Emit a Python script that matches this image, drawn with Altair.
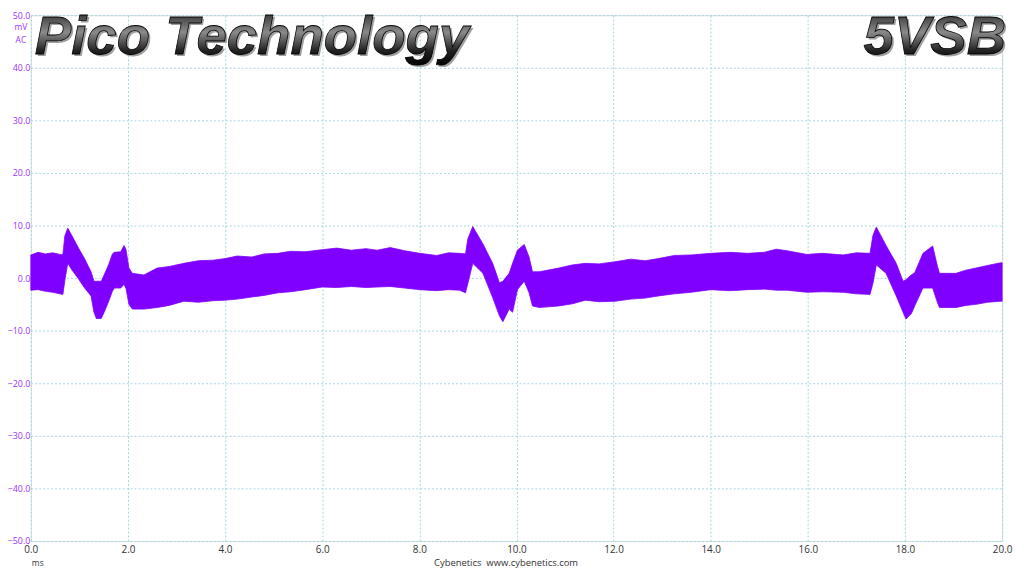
import altair as alt
import pandas as pd

# Envelope of the 5VSB ripple trace (ms, mV upper, mV lower)
time_ms = [0.00, 0.15, 0.30, 0.45, 0.60, 0.66, 0.70, 0.76, 0.85, 0.97, 1.10, 1.24, 1.30, 1.35, 1.45,
           1.51, 1.60, 1.68, 1.72, 1.85, 1.92, 1.96, 2.02, 2.09, 2.33, 2.60, 2.85, 3.15, 3.45, 3.75,
           4.00, 4.25, 4.55, 4.80, 5.09, 5.35, 5.65, 6.00, 6.30, 6.60, 6.90, 7.13, 7.40, 7.70, 8.01,
           8.36, 8.60, 8.83, 8.95, 9.00, 9.10, 9.31, 9.51, 9.65, 9.72, 9.85, 9.92, 10.02, 10.16, 10.26,
           10.33, 10.47, 10.87, 11.15, 11.42, 11.70, 12.03, 12.35, 12.65, 12.92, 13.25, 13.60, 14.00,
           14.40, 14.76, 15.10, 15.35, 15.57, 15.98, 16.30, 16.73, 17.00, 17.28, 17.34, 17.41, 17.61,
           17.82, 17.96, 18.02, 18.13, 18.20, 18.37, 18.57, 18.67, 18.71, 19.05, 19.25, 19.46, 19.70,
           19.97, 20.00]
upper_mv = [4.4, 4.9, 4.6, 4.8, 4.5, 4.5, 8.0, 9.5, 8.0, 5.9, 3.8, 1.2, -0.6, -0.6, -0.6,
            0.6, 2.5, 4.6, 4.9, 5.0, 6.2, 5.4, 1.9, 0.9, 0.6, 1.9, 2.2, 2.8, 3.3, 3.4,
            3.7, 4.2, 4.0, 4.6, 4.7, 5.1, 5.0, 5.4, 5.7, 5.3, 5.6, 5.3, 5.8, 5.2, 4.7,
            4.3, 4.8, 4.7, 4.6, 7.5, 9.8, 6.5, 2.8, -0.9, -0.6, 0.9, 2.8, 5.3, 6.4, 4.0,
            1.2, 1.2, 1.9, 2.5, 2.8, 2.7, 3.1, 3.6, 3.3, 3.7, 4.3, 4.4, 4.7,
            4.9, 4.7, 4.9, 5.5, 5.2, 4.5, 4.7, 4.4, 4.8, 4.7, 8.1, 9.7, 6.2,
            2.8, -0.6, -0.3, 0.6, 1.0, 4.7, 6.1, 2.2, 0.9, 0.9, 1.5, 1.9, 2.4,
            2.9, 2.9]
lower_mv = [-2.3, -2.2, -2.5, -2.7, -3.0, -3.1, -0.5, 2.8, 1.5, 0.0, -1.8, -3.4, -6.5, -7.7, -7.7,
            -6.5, -4.5, -2.5, -1.9, -1.9, -1.2, -2.0, -5.0, -5.9, -5.9, -5.6, -5.2, -4.4, -4.6, -4.3,
            -4.2, -4.0, -3.6, -3.3, -2.8, -2.6, -2.2, -1.7, -1.8, -1.6, -1.8, -1.7, -1.6, -1.9, -2.2,
            -2.4, -2.2, -2.3, -2.8, -1.0, 2.8, 0.9, -3.7, -7.2, -8.3, -5.9, -6.5, -2.2, -0.6, -2.8,
            -5.3, -5.6, -5.3, -4.9, -4.2, -4.5, -4.4, -4.0, -3.8, -3.4, -3.0, -2.7, -2.2,
            -2.4, -2.2, -2.1, -2.3, -2.3, -2.7, -2.6, -2.7, -3.0, -3.1, -1.0, 2.5, 0.9,
            -3.4, -6.5, -7.8, -6.8, -5.3, -1.9, -1.9, -4.7, -5.6, -5.6, -5.2, -5.0, -4.6,
            -4.4, -4.4]

x_ticks = [0, 2, 4, 6, 8, 10, 12, 14, 16, 18, 20]
y_ticks = [-50, -40, -30, -20, -10, 0, 10, 20, 30, 40, 50]

title_left = "Pico Technology"
title_right = "5VSB"
unit_labels = ["mV", "AC"]
x_unit = "ms"
footer = "Cybenetics \u00a0www.cybenetics.com"

trace = pd.DataFrame({"t": time_ms, "hi": upper_mv, "lo": lower_mv})

W, H = 979, 530
PURPLE = "#7F00FF"
GRID = "#a3d6e0"

x_scale = alt.Scale(domain=[0, 20], nice=False, zero=False)
y_scale = alt.Scale(domain=[-50, 50], nice=False)

grid_axis_x = alt.Axis(values=x_ticks, format=".1f", grid=True, gridColor=GRID,
                       gridDash=[2, 2], gridWidth=1, domain=False, ticks=False,
                       labelColor="#333333", labelFont="Open Sans", labelFontSize=10,
                       labelPadding=4, title=None, labelFlush=False)
grid_axis_y = alt.Axis(values=y_ticks, format=".1f", grid=True, gridColor=GRID,
                       gridDash=[2, 2], gridWidth=1, domain=False, ticks=False,
                       labelColor="#9933FF", labelFont="Open Sans", labelFontSize=9,
                       labelPadding=1, title=None, labelFlush=False)

band = alt.Chart(trace).mark_area(color=PURPLE, opacity=1, stroke=PURPLE, strokeWidth=0.8).encode(
    x=alt.X("t:Q", scale=x_scale, axis=grid_axis_x),
    y=alt.Y("hi:Q", scale=y_scale, axis=grid_axis_y),
    y2="lo:Q",
)

one = pd.DataFrame({"k": [0]})

grad = alt.LinearGradient(
    gradient="linear",
    stops=[alt.GradientStop(color="#111111", offset=0),
           alt.GradientStop(color="#8a8a8a", offset=0.45),
           alt.GradientStop(color="#222222", offset=0.75),
           alt.GradientStop(color="#000000", offset=1)],
    x1=0, x2=0, y1=0, y2=1,
)

def big_text(txt, x, align):
    shadow = alt.Chart(one).mark_text(
        text=txt, font="Liberation Sans", fontSize=55, fontWeight="bold", fontStyle="italic",
        align=align, baseline="alphabetic", color="#a0a0a0", dx=2, dy=2,
    ).encode(x=alt.value(x), y=alt.value(39))
    main = alt.Chart(one).mark_text(
        text=txt, font="Liberation Sans", fontSize=55, fontWeight="bold", fontStyle="italic",
        align=align, baseline="alphabetic", color=grad, stroke="#000000", strokeWidth=0.8,
    ).encode(x=alt.value(x), y=alt.value(39))
    return shadow + main

t_left = big_text(title_left, 4, "left")
t_right = big_text(title_right, 983, "right")

unit1 = alt.Chart(one).mark_text(text=unit_labels[0], fontSize=8.5, font="Open Sans",
                                 color="#9933FF", align="center").encode(
    x=alt.value(-10), y=alt.value(12))
unit2 = alt.Chart(one).mark_text(text=unit_labels[1], fontSize=8.5, font="Open Sans",
                                 color="#9933FF", align="center").encode(
    x=alt.value(-10), y=alt.value(25))
xu = alt.Chart(one).mark_text(text=x_unit, fontSize=8.5, font="Open Sans",
                              color="#333333", align="center").encode(
    x=alt.value(7), y=alt.value(H + 22))
foot = alt.Chart(one).mark_text(text=footer, fontSize=9.5, font="Open Sans",
                                color="#333333", align="center").encode(
    x=alt.value(479), y=alt.value(H + 22))

chart = alt.layer(band, t_left, t_right, unit1, unit2, xu, foot).properties(
    width=W, height=H,
    autosize=alt.AutoSizeParams(type="none"),
    padding={"left": 23, "top": 5, "right": 14, "bottom": 25},
).configure_view(stroke=None).configure(background="white")

chart.save("out.html", embed_options={"renderer": "svg", "actions": False})
